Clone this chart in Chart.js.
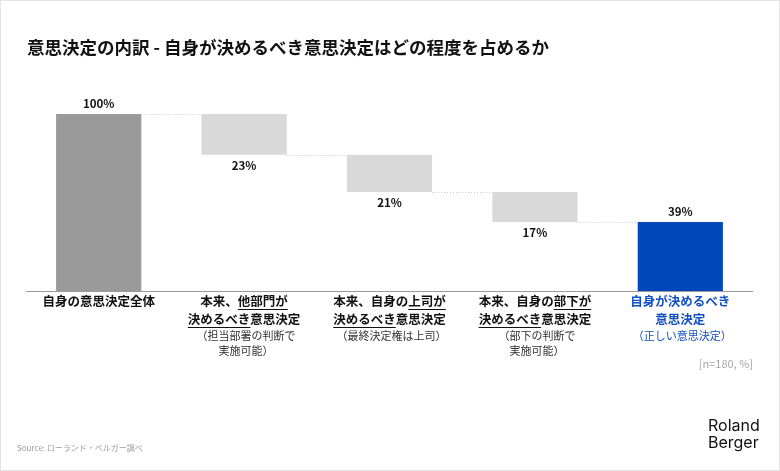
<!DOCTYPE html>
<html lang="ja">
<head>
<meta charset="utf-8">
<title>意思決定の内訳</title>
<script src="https://cdn.jsdelivr.net/npm/chart.js@4.4.1/dist/chart.umd.min.js"></script>
<style>
  html, body { margin: 0; padding: 0; background: #fff; }
  .frame { position: relative; width: 778px; height: 469px; border: 1px solid #e3e3e3; }
  .frame canvas { position: absolute; left: -1px; top: -1px; }
</style>
</head>
<body>
<div class="frame">
  <canvas id="grafico" width="780" height="471"></canvas>
</div>
<script>
// dados do gráfico (cascata)
const titulo = '意思決定の内訳 - 自身が決めるべき意思決定はどの程度を占めるか';
const valores = [100, 23, 21, 17, 39];           // valores exibidos
const inicios = [0, 77, 56, 39, 0];              // base de cada barra flutuante
const fins = [100, 100, 77, 56, 39];             // topo de cada barra
const rotulosValor = ['100%', '23%', '21%', '17%', '39%'];
const posRotulo = ['top', 'bottom', 'bottom', 'bottom', 'top'];
// "_" liga/desliga o sublinhado
const categorias = [
    ['自身の意思決定全体'],
    ['本来、_他部門が_', '_決めるべき_意思決定'],
    ['本来、自身の_上司が_', '_決めるべき_意思決定'],
    ['本来、自身の_部下が_', '_決めるべき_意思決定'],
    ['自身が決めるべき', '意思決定']
];
const subCategorias = [
    [],
    ['（担当部署の判断で', '実施可能）'],
    ['（最終決定権は上司）'],
    ['（部下の判断で', '実施可能）'],
    ['（正しい意思決定）']
];
const cores = ['#9a9a9a', '#d9d9d9', '#d9d9d9', '#d9d9d9', '#0047bb'];
const corTexto = ['#111', '#111', '#111', '#111', '#1450c2'];
const nota = '[n=180, %]';
const fonte = 'Source: ローランド・ベルガー調べ';
const logo = ['Roland', 'Berger'];

const FAMILIA = '"Noto Sans CJK JP", "Noto Sans", sans-serif';

// plugin para desenhar textos, conectores e eixo
const pluginCascata = {
    id: 'cascata',
    afterDraw(chart) {
        const ctx = chart.ctx;
        const x = chart.scales.x;
        const y = chart.scales.y;
        const area = chart.chartArea;
        const meta = chart.getDatasetMeta(0);
        ctx.save();

        // título
        ctx.fillStyle = '#111';
        ctx.font = 'bold 17.5px ' + FAMILIA;
        ctx.textAlign = 'left';
        ctx.textBaseline = 'middle';
        ctx.fillText(titulo, 27, 47);

        // linha do eixo
        const y0 = y.getPixelForValue(0);
        ctx.strokeStyle = '#9a9a9a';
        ctx.lineWidth = 1.2;
        ctx.beginPath();
        ctx.moveTo(area.left, y0 + 0.5);
        ctx.lineTo(area.right, y0 + 0.5);
        ctx.stroke();

        // conectores pontilhados
        ctx.strokeStyle = '#c4c4c4';
        ctx.lineWidth = 1;
        ctx.setLineDash([1, 2]);
        for (let i = 0; i < meta.data.length - 1; i++) {
            const a = meta.data[i];
            const b = meta.data[i + 1];
            const nivel = i === 0 ? fins[0] : inicios[i];
            const py = Math.round(y.getPixelForValue(nivel)) + 0.5;
            ctx.beginPath();
            ctx.moveTo(a.x + a.width / 2, py);
            ctx.lineTo(b.x - b.width / 2, py);
            ctx.stroke();
        }
        ctx.setLineDash([]);

        // rótulos de valor
        ctx.font = 'bold 11.5px ' + FAMILIA;
        ctx.fillStyle = '#111';
        ctx.textAlign = 'center';
        meta.data.forEach((bar, i) => {
            const py = posRotulo[i] === 'top'
                ? y.getPixelForValue(fins[i]) - 10
                : y.getPixelForValue(inicios[i]) + 11;
            ctx.fillText(rotulosValor[i], bar.x, py);
        });

        // rótulos das categorias
        categorias.forEach((linhas, i) => {
            const cx = x.getPixelForValue(i);
            let py = y0 + 10;
            ctx.font = 'bold 12.5px ' + FAMILIA;
            linhas.forEach(linha => {
                const partes = linha.split('_');
                const larguraTotal = ctx.measureText(partes.join('')).width;
                let px = cx - larguraTotal / 2;
                ctx.textAlign = 'left';
                partes.forEach((parte, k) => {
                    if (!parte) return;
                    const w = ctx.measureText(parte).width;
                    ctx.fillStyle = corTexto[i];
                    ctx.fillText(parte, px, py);
                    if (k % 2 === 1) {
                        ctx.strokeStyle = corTexto[i];
                        ctx.lineWidth = 1;
                        ctx.beginPath();
                        ctx.moveTo(px, py + 8.5);
                        ctx.lineTo(px + w, py + 8.5);
                        ctx.stroke();
                    }
                    px += w;
                });
                py += 18;
            });
            ctx.font = '11px ' + FAMILIA;
            ctx.textAlign = 'center';
            ctx.fillStyle = i === 4 ? corTexto[i] : '#333';
            py -= 1;
            subCategorias[i].forEach(linha => {
                ctx.fillText(linha, cx + 2, py);
                py += 15;
            });
        });

        // nota
        ctx.font = '11px ' + FAMILIA;
        ctx.fillStyle = '#a6a6a6';
        ctx.textAlign = 'right';
        ctx.fillText(nota, area.right, 364);

        // fonte
        ctx.font = '8px ' + FAMILIA;
        ctx.fillStyle = '#9a9a9a';
        ctx.textAlign = 'left';
        ctx.fillText(fonte, 17, 448);

        // logotipo
        ctx.font = '16px Inter, "Noto Sans", sans-serif';
        ctx.fillStyle = '#111';
        ctx.textAlign = 'left';
        ctx.fillText(logo[0], 708, 426);
        ctx.fillText(logo[1], 708, 443);

        ctx.restore();
    }
};

const ctx = document.getElementById('grafico').getContext('2d');
const grafico = new Chart(ctx, {
    type: 'bar',
    data: {
        labels: categorias.map(c => c.join('').replace(/_/g, '')),
        datasets: [{
            data: inicios.map((v, i) => [v, fins[i]]),
            backgroundColor: cores,
            borderWidth: 0,
            barPercentage: 0.586,
            categoryPercentage: 1
        }]
    },
    options: {
        responsive: false,
        animation: false,
        layout: { padding: { left: 26, right: 27, top: 114, bottom: 180 } },
        plugins: { legend: { display: false }, tooltip: { enabled: false } },
        scales: {
            x: { display: false },
            y: { display: false, min: 0, max: 100 }
        }
    },
    plugins: [pluginCascata]
});
</script>
</body>
</html>
